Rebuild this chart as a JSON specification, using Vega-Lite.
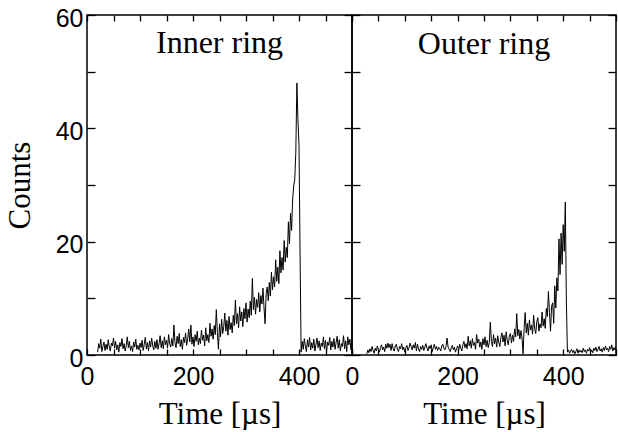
{
  "$schema": "https://vega.github.io/schema/vega-lite/v6.json",
  "background": "white",
  "padding": {"left": 3, "top": 5, "right": 0, "bottom": 0},
  "spacing": 0,
  "bounds": "flush",
  "datasets": {
    "inner": [
      {"t":20,"c":0.5},{"t":22,"c":2},{"t":24,"c":1.2},{"t":26,"c":2.8},{"t":28,"c":0.6},{"t":30,"c":1.5},{"t":32,"c":2.3},{"t":34,"c":0.8},{"t":36,"c":1.9},{"t":38,"c":1},
      {"t":40,"c":2.7},{"t":42,"c":1.4},{"t":44,"c":0.7},{"t":46,"c":2.1},{"t":48,"c":1.6},{"t":50,"c":3},{"t":52,"c":1.2},{"t":54,"c":2.4},{"t":56,"c":0.9},{"t":58,"c":1.8},
      {"t":60,"c":0.5},{"t":62,"c":2.2},{"t":64,"c":1.5},{"t":66,"c":2.9},{"t":68,"c":1.1},{"t":70,"c":2},{"t":72,"c":0.7},{"t":74,"c":1.7},{"t":76,"c":3.2},{"t":78,"c":1.3},
      {"t":80,"c":2.4},{"t":82,"c":0.8},{"t":84,"c":1.6},{"t":86,"c":0.6},{"t":88,"c":2.3},{"t":90,"c":1.4},{"t":92,"c":2.8},{"t":94,"c":1},{"t":96,"c":1.7},{"t":98,"c":0.9},
      {"t":100,"c":2.1},{"t":102,"c":1.3},{"t":104,"c":2.6},{"t":106,"c":0.8},{"t":108,"c":1.9},{"t":110,"c":3.1},{"t":112,"c":1.1},{"t":114,"c":2.2},{"t":116,"c":0.7},{"t":118,"c":2.5},
      {"t":120,"c":1.4},{"t":122,"c":3},{"t":124,"c":1.6},{"t":126,"c":0.9},{"t":128,"c":2.4},{"t":130,"c":1.2},{"t":132,"c":2.7},{"t":134,"c":1},{"t":136,"c":2},{"t":138,"c":3.4},
      {"t":140,"c":1.3},{"t":142,"c":2.5},{"t":144,"c":1.1},{"t":146,"c":3.2},{"t":148,"c":1.8},{"t":150,"c":2.6},{"t":152,"c":1.2},{"t":154,"c":3.6},{"t":156,"c":2},{"t":158,"c":1.4},
      {"t":160,"c":2.9},{"t":162,"c":1.6},{"t":164,"c":5.3},{"t":166,"c":2.2},{"t":168,"c":1.3},{"t":170,"c":3.3},{"t":172,"c":2},{"t":174,"c":3.8},{"t":176,"c":1.5},{"t":178,"c":2.7},
      {"t":180,"c":1},{"t":182,"c":3.1},{"t":184,"c":2.2},{"t":186,"c":3.9},{"t":188,"c":1.7},{"t":190,"c":2.8},{"t":192,"c":4.6},{"t":194,"c":2.3},{"t":196,"c":5.3},{"t":198,"c":1.9},
      {"t":200,"c":3.2},{"t":202,"c":1.5},{"t":204,"c":3.6},{"t":206,"c":2.4},{"t":208,"c":4.2},{"t":210,"c":1.8},{"t":212,"c":3},{"t":214,"c":2},{"t":216,"c":4.4},{"t":218,"c":2.6},
      {"t":220,"c":3.5},{"t":222,"c":1.6},{"t":224,"c":4.8},{"t":226,"c":2.5},{"t":228,"c":3.6},{"t":230,"c":2.2},{"t":232,"c":5.6},{"t":234,"c":3.3},{"t":236,"c":4.6},{"t":238,"c":2.8},
      {"t":240,"c":5.2},{"t":242,"c":3.6},{"t":244,"c":8},{"t":246,"c":4},{"t":248,"c":1},{"t":250,"c":5.5},{"t":252,"c":3.2},{"t":254,"c":6.3},{"t":256,"c":3.8},{"t":258,"c":5},
      {"t":260,"c":7.4},{"t":262,"c":4.2},{"t":264,"c":6.1},{"t":266,"c":3.5},{"t":268,"c":6.8},{"t":270,"c":4.5},{"t":272,"c":5.7},{"t":274,"c":3.9},{"t":276,"c":7},{"t":278,"c":5.2},
      {"t":280,"c":9.7},{"t":282,"c":5.5},{"t":284,"c":7.3},{"t":286,"c":4.8},{"t":288,"c":8.5},{"t":290,"c":6},{"t":292,"c":7.6},{"t":294,"c":5},{"t":296,"c":8.2},{"t":298,"c":6.4},
      {"t":300,"c":9.2},{"t":302,"c":5.8},{"t":304,"c":8.1},{"t":306,"c":6.6},{"t":308,"c":9.5},{"t":310,"c":7},{"t":312,"c":13.5},{"t":314,"c":8},{"t":316,"c":10.2},{"t":318,"c":7.2},
      {"t":320,"c":9.8},{"t":322,"c":8.4},{"t":324,"c":11},{"t":326,"c":7.6},{"t":328,"c":10.5},{"t":330,"c":9},{"t":332,"c":11.8},{"t":334,"c":8.3},{"t":336,"c":5.5},{"t":338,"c":10.8},
      {"t":340,"c":12},{"t":342,"c":9.6},{"t":344,"c":12.8},{"t":346,"c":10.4},{"t":348,"c":14.6},{"t":350,"c":11.5},{"t":352,"c":13.8},{"t":354,"c":12},{"t":356,"c":16.8},{"t":358,"c":13},
      {"t":360,"c":15.5},{"t":362,"c":12.6},{"t":364,"c":18.4},{"t":366,"c":14.5},{"t":368,"c":17.2},{"t":370,"c":15},{"t":372,"c":20.2},{"t":374,"c":16.4},{"t":376,"c":19},{"t":378,"c":17.2},
      {"t":380,"c":23.5},{"t":382,"c":19.6},{"t":384,"c":25},{"t":386,"c":22},{"t":388,"c":27.5},{"t":390,"c":29.8},{"t":392,"c":31},{"t":394,"c":35.8},{"t":396,"c":48},{"t":398,"c":41.5},
      {"t":400,"c":37},{"t":402,"c":18},{"t":404,"c":0.5},{"t":406,"c":2.4},{"t":408,"c":1},{"t":410,"c":2.9},{"t":412,"c":1.6},{"t":414,"c":0.6},{"t":416,"c":2.7},{"t":418,"c":1.4},
      {"t":420,"c":3.1},{"t":422,"c":0.9},{"t":424,"c":2.2},{"t":426,"c":1.2},{"t":428,"c":2.8},{"t":430,"c":0.7},{"t":432,"c":1.9},{"t":434,"c":3},{"t":436,"c":1.3},{"t":438,"c":2.5},
      {"t":440,"c":0.8},{"t":442,"c":2.1},{"t":444,"c":1.5},{"t":446,"c":3.2},{"t":448,"c":1.1},{"t":450,"c":2.6},{"t":452,"c":0.6},{"t":454,"c":2.3},{"t":456,"c":1.7},{"t":458,"c":3.1},
      {"t":460,"c":0.9},{"t":462,"c":2.4},{"t":464,"c":1.4},{"t":466,"c":2.9},{"t":468,"c":1},{"t":470,"c":2.2},{"t":472,"c":3.3},{"t":474,"c":1.2},{"t":476,"c":2.7},{"t":478,"c":0.7},
      {"t":480,"c":2},{"t":482,"c":1.5},{"t":484,"c":3.4},{"t":486,"c":1.1},{"t":488,"c":2.5},{"t":490,"c":0.6},{"t":492,"c":3.2},{"t":494,"c":1.8},{"t":496,"c":2.8},{"t":498,"c":0.9},
      {"t":500,"c":1.7}
    ],
    "outer": [
      {"t":28,"c":0.2},{"t":30,"c":0.9},{"t":32,"c":0.4},{"t":34,"c":1.1},{"t":36,"c":0.6},{"t":38,"c":1.5},{"t":40,"c":0.8},{"t":42,"c":0.3},{"t":44,"c":1.2},{"t":46,"c":0.7},
      {"t":48,"c":1.6},{"t":50,"c":1},{"t":52,"c":0.5},{"t":54,"c":1.3},{"t":56,"c":1.8},{"t":58,"c":0.9},{"t":60,"c":1.4},{"t":62,"c":0.6},{"t":64,"c":1.9},{"t":66,"c":1.2},
      {"t":68,"c":2.1},{"t":70,"c":1.3},{"t":72,"c":1.9},{"t":74,"c":0.8},{"t":76,"c":2},{"t":78,"c":1.1},{"t":80,"c":0.7},{"t":82,"c":1.6},{"t":84,"c":1.9},{"t":86,"c":1},
      {"t":88,"c":0.6},{"t":90,"c":1.5},{"t":92,"c":1.1},{"t":94,"c":2},{"t":96,"c":0.9},{"t":98,"c":1.4},{"t":100,"c":0.5},{"t":102,"c":1.2},{"t":104,"c":1.7},{"t":106,"c":0.8},
      {"t":108,"c":1.3},{"t":110,"c":2.1},{"t":112,"c":1.5},{"t":114,"c":0.9},{"t":116,"c":1.8},{"t":118,"c":1.2},{"t":120,"c":2.2},{"t":122,"c":0.7},{"t":124,"c":1.9},{"t":126,"c":1.1},
      {"t":128,"c":0.6},{"t":130,"c":1.5},{"t":132,"c":1},{"t":134,"c":1.7},{"t":136,"c":0.8},{"t":138,"c":1.4},{"t":140,"c":2},{"t":142,"c":1.2},{"t":144,"c":0.7},{"t":146,"c":1.6},
      {"t":148,"c":1.1},{"t":150,"c":1.8},{"t":152,"c":0.6},{"t":154,"c":1.3},{"t":156,"c":1.9},{"t":158,"c":1},{"t":160,"c":1.5},{"t":162,"c":0.8},{"t":164,"c":1.4},{"t":166,"c":1.1},
      {"t":168,"c":0.7},{"t":170,"c":1.6},{"t":172,"c":1.9},{"t":174,"c":1.2},{"t":176,"c":0.9},{"t":178,"c":1.5},{"t":180,"c":3},{"t":182,"c":1.4},{"t":184,"c":1},{"t":186,"c":0.6},
      {"t":188,"c":1.3},{"t":190,"c":1.7},{"t":192,"c":0.9},{"t":194,"c":1.4},{"t":196,"c":0.5},{"t":198,"c":1.1},{"t":200,"c":1.6},{"t":202,"c":0.8},{"t":204,"c":1.9},{"t":206,"c":1.2},
      {"t":208,"c":0.7},{"t":210,"c":1.8},{"t":212,"c":2.4},{"t":214,"c":1.3},{"t":216,"c":2},{"t":218,"c":1.1},{"t":220,"c":3.3},{"t":222,"c":1.6},{"t":224,"c":2.5},{"t":226,"c":1.2},
      {"t":228,"c":2.9},{"t":230,"c":1.7},{"t":232,"c":2.2},{"t":234,"c":1},{"t":236,"c":3.6},{"t":238,"c":2.1},{"t":240,"c":2.8},{"t":242,"c":1.4},{"t":244,"c":2.3},{"t":246,"c":1},
      {"t":248,"c":2.9},{"t":250,"c":1.8},{"t":252,"c":3.2},{"t":254,"c":1.5},{"t":256,"c":2.6},{"t":258,"c":1.3},{"t":260,"c":2.2},{"t":262,"c":5.8},{"t":264,"c":2.4},{"t":266,"c":1.5},
      {"t":268,"c":3.6},{"t":270,"c":2},{"t":272,"c":3},{"t":274,"c":1.4},{"t":276,"c":3.4},{"t":278,"c":2.2},{"t":280,"c":1.5},{"t":282,"c":3.1},{"t":284,"c":3.9},{"t":286,"c":2.3},
      {"t":288,"c":3.5},{"t":290,"c":1.6},{"t":292,"c":4.1},{"t":294,"c":2.6},{"t":296,"c":1.8},{"t":298,"c":3.3},{"t":300,"c":3.8},{"t":302,"c":2.1},{"t":304,"c":3.5},{"t":306,"c":2.4},
      {"t":308,"c":4.6},{"t":310,"c":3.2},{"t":312,"c":7.3},{"t":314,"c":3.4},{"t":316,"c":4.5},{"t":318,"c":2.8},{"t":320,"c":4.3},{"t":322,"c":3},{"t":324,"c":0.2},{"t":326,"c":4.8},
      {"t":328,"c":7.5},{"t":330,"c":3.9},{"t":332,"c":5.6},{"t":334,"c":3.5},{"t":336,"c":6.2},{"t":338,"c":4.4},{"t":340,"c":5.3},{"t":342,"c":3.7},{"t":344,"c":7},{"t":346,"c":4.6},
      {"t":348,"c":3.8},{"t":350,"c":5.9},{"t":352,"c":6.6},{"t":354,"c":4.2},{"t":356,"c":5.5},{"t":358,"c":4.8},{"t":360,"c":7.6},{"t":362,"c":5.1},{"t":364,"c":6.4},{"t":366,"c":4.7},
      {"t":368,"c":8.2},{"t":370,"c":6.8},{"t":372,"c":11.2},{"t":374,"c":7.5},{"t":376,"c":4.2},{"t":378,"c":8.6},{"t":380,"c":9.2},{"t":382,"c":5.6},{"t":384,"c":12.2},{"t":386,"c":8.3},
      {"t":388,"c":13.6},{"t":390,"c":11.3},{"t":392,"c":20.5},{"t":394,"c":14.2},{"t":396,"c":21.5},{"t":398,"c":16},{"t":400,"c":23},{"t":402,"c":18.3},{"t":404,"c":27},{"t":406,"c":9.5},
      {"t":408,"c":0.5},{"t":410,"c":0.9},{"t":412,"c":0.3},{"t":414,"c":0.7},{"t":416,"c":1},{"t":418,"c":0.4},{"t":420,"c":0.8},{"t":422,"c":0.2},{"t":424,"c":0.6},{"t":426,"c":1.1},
      {"t":428,"c":0.3},{"t":430,"c":0.9},{"t":432,"c":0.5},{"t":434,"c":0.8},{"t":436,"c":0.4},{"t":438,"c":1.2},{"t":440,"c":0.6},{"t":442,"c":0.9},{"t":444,"c":0.3},{"t":446,"c":1},
      {"t":448,"c":0.7},{"t":450,"c":1.3},{"t":452,"c":0.5},{"t":454,"c":0.9},{"t":456,"c":0.4},{"t":458,"c":1.2},{"t":460,"c":0.8},{"t":462,"c":1.4},{"t":464,"c":0.6},{"t":466,"c":1},
      {"t":468,"c":1.5},{"t":470,"c":0.7},{"t":472,"c":1.1},{"t":474,"c":0.5},{"t":476,"c":1.3},{"t":478,"c":0.8},{"t":480,"c":1.6},{"t":482,"c":0.9},{"t":484,"c":1.2},{"t":486,"c":0.6},
      {"t":488,"c":1.5},{"t":490,"c":1},{"t":492,"c":1.8},{"t":494,"c":0.7},{"t":496,"c":1.3},{"t":498,"c":0.9},{"t":500,"c":1.6}
    ]
  },
  "config": {
    "view": {"stroke": "black", "strokeWidth": 1.5},
    "concat": {"spacing": 0},
    "axis": {
      "grid": false, "domain": false, "tickColor": "black", "tickWidth": 1.3,
      "labelColor": "black", "labelFont": "Liberation Sans", "labelFontSize": 25,
      "labelOverlap": false, "labelFlush": false,
      "titleColor": "black", "titleFont": "Liberation Serif", "titleFontSize": 31, "titleFontWeight": "normal"
    },
    "title": {"font": "Liberation Serif", "fontSize": 32, "fontWeight": "normal", "color": "black", "anchor": "middle", "baseline": "alphabetic"}
  },
  "hconcat": [
    {
      "width": 265, "height": 340,
      "data": {"name": "inner"},
      "title": {"text": "Inner ring", "offset": -54},
      "layer": [
        {
          "mark": {"type": "line", "color": "black", "strokeWidth": 1, "clip": true},
          "encoding": {
            "x": {"field": "t", "type": "quantitative", "scale": {"domain": [0, 500], "nice": false},
              "axis": {"orient": "bottom", "values": [0,50,100,150,200,250,300,350,400,450,500], "labelExpr": "datum.value % 200 === 0 ? datum.label : ''", "tickSize": -6, "labelPadding": 15, "title": "Time [µs]", "titlePadding": 10}},
            "y": {"field": "c", "type": "quantitative", "scale": {"domain": [0, 60], "nice": false},
              "axis": {"orient": "left", "values": [0,10,20,30,40,50,60], "labelExpr": "datum.value % 20 === 0 ? datum.label : ''", "tickSize": -8, "labelPadding": 12, "labelOffset": 3, "title": "Counts", "titlePadding": 18.5}}
          }
        },
        {
          "mark": {"type": "line", "strokeOpacity": 0},
          "encoding": {
            "x": {"field": "t", "type": "quantitative", "scale": {"domain": [0, 500], "nice": false},
              "axis": {"orient": "top", "values": [0,50,100,150,200,250,300,350,400,450,500], "labels": false, "tickSize": -6, "title": null}},
            "y": {"field": "c", "type": "quantitative", "scale": {"domain": [0, 60], "nice": false},
              "axis": {"orient": "right", "values": [0,10,20,30,40,50,60], "labels": false, "tickSize": -8, "title": null}}
          }
        }
      ],
      "resolve": {"axis": {"x": "independent", "y": "independent"}}
    },
    {
      "width": 264, "height": 340,
      "data": {"name": "outer"},
      "title": {"text": "Outer ring", "offset": -47},
      "layer": [
        {
          "mark": {"type": "line", "color": "black", "strokeWidth": 1, "clip": true},
          "encoding": {
            "x": {"field": "t", "type": "quantitative", "scale": {"domain": [0, 500], "nice": false},
              "axis": {"orient": "bottom", "values": [0,50,100,150,200,250,300,350,400,450,500], "labelExpr": "datum.value % 200 === 0 ? datum.label : ''", "tickSize": -6, "labelPadding": 15, "title": "Time [µs]", "titlePadding": 10}},
            "y": {"field": "c", "type": "quantitative", "scale": {"domain": [0, 60], "nice": false},
              "axis": {"orient": "left", "values": [0,10,20,30,40,50,60], "labels": false, "tickSize": -8, "title": null}}
          }
        },
        {
          "mark": {"type": "line", "strokeOpacity": 0},
          "encoding": {
            "x": {"field": "t", "type": "quantitative", "scale": {"domain": [0, 500], "nice": false},
              "axis": {"orient": "top", "values": [0,50,100,150,200,250,300,350,400,450,500], "labels": false, "tickSize": -6, "title": null}},
            "y": {"field": "c", "type": "quantitative", "scale": {"domain": [0, 60], "nice": false},
              "axis": {"orient": "right", "values": [0,10,20,30,40,50,60], "labels": false, "tickSize": -8, "title": null}}
          }
        }
      ],
      "resolve": {"axis": {"x": "independent", "y": "independent"}}
    }
  ]
}
